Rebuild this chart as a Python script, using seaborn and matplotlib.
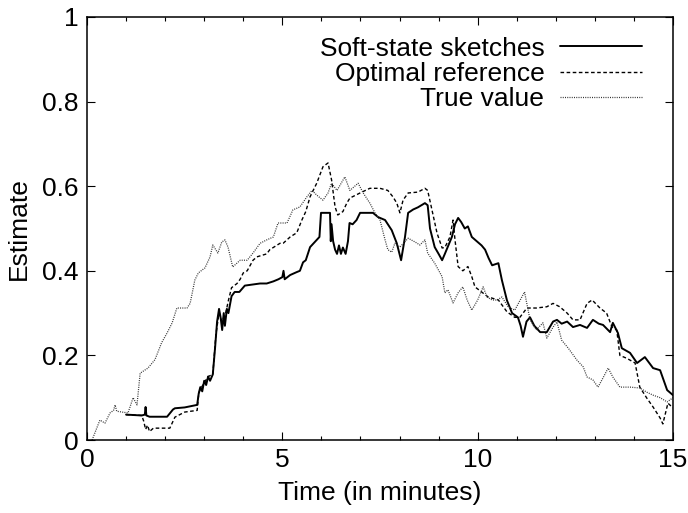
import numpy as np
import pandas as pd
import matplotlib
matplotlib.use("Agg")
import matplotlib.pyplot as plt
import seaborn as sns
from matplotlib.ticker import MultipleLocator

# ---------------- data ----------------
soft_t = [1.0, 1.4, 1.48, 1.50, 1.52, 1.6, 2.05, 2.2, 2.25, 2.5, 2.82, 2.86, 2.9, 2.95, 3.0, 3.05,
          3.1, 3.15, 3.22, 3.28, 3.33, 3.38, 3.42, 3.46, 3.5, 3.53, 3.58, 3.62, 3.7, 3.78, 3.9,
          4.04, 4.2, 4.43, 4.6, 4.77, 4.9, 5.0, 5.03, 5.06, 5.2, 5.37, 5.45, 5.53, 5.6, 5.71,
          5.8, 5.88, 5.95, 5.99, 6.22, 6.24, 6.26, 6.3, 6.35, 6.4, 6.45, 6.5, 6.55, 6.62, 6.68,
          6.72, 6.8, 6.9, 6.99, 7.32, 7.45, 7.63, 7.8, 7.93, 8.04, 8.14, 8.22, 8.35, 8.47, 8.65,
          8.72, 8.78, 8.9, 9.0, 9.09, 9.16, 9.25, 9.34, 9.42, 9.5, 9.58, 9.67, 9.75, 9.85, 10.0,
          10.1, 10.19, 10.28, 10.37, 10.53, 10.62, 10.75, 10.88, 11.03, 11.1, 11.16, 11.25,
          11.34, 11.45, 11.6, 11.77, 11.93, 12.03, 12.15, 12.29, 12.44, 12.62, 12.8, 12.95,
          13.1, 13.21, 13.39, 13.46, 13.59, 13.69, 13.9, 14.08, 14.28, 14.49, 14.67, 14.85, 15.0]
soft_v = [0.060, 0.058, 0.060, 0.078, 0.058, 0.055, 0.055, 0.072, 0.075, 0.077, 0.083, 0.11,
          0.125, 0.115, 0.14, 0.13, 0.15, 0.14, 0.155, 0.22, 0.28, 0.31, 0.29, 0.26, 0.30, 0.27,
          0.31, 0.30, 0.34, 0.35, 0.35, 0.365, 0.367, 0.37, 0.37, 0.375, 0.38, 0.385, 0.40, 0.38,
          0.39, 0.397, 0.40, 0.42, 0.425, 0.456, 0.465, 0.473, 0.48, 0.537, 0.537, 0.47, 0.51,
          0.47, 0.45, 0.44, 0.46, 0.44, 0.455, 0.44, 0.47, 0.513, 0.51, 0.52, 0.537, 0.537,
          0.527, 0.52, 0.496, 0.465, 0.425, 0.48, 0.537, 0.545, 0.55, 0.56, 0.555, 0.50, 0.456,
          0.44, 0.425, 0.44, 0.46, 0.48, 0.51, 0.525, 0.515, 0.50, 0.505, 0.48, 0.468, 0.46,
          0.45, 0.43, 0.413, 0.418, 0.378, 0.33, 0.30, 0.29, 0.27, 0.244, 0.28, 0.29, 0.27,
          0.255, 0.255, 0.28, 0.284, 0.275, 0.28, 0.267, 0.272, 0.265, 0.284, 0.275, 0.272,
          0.255, 0.277, 0.253, 0.217, 0.206, 0.182, 0.196, 0.17, 0.165, 0.118, 0.106]

opt_t = [1.0, 1.4, 1.45, 1.5, 1.55, 1.6, 1.7, 1.82, 2.12, 2.25, 2.5, 2.82, 2.86, 2.9, 3.0, 3.1,
         3.22, 3.3, 3.38, 3.45, 3.55, 3.62, 3.7, 3.84, 3.92, 4.0, 4.1, 4.25, 4.35, 4.6, 4.68,
         4.94, 5.02, 5.2, 5.37, 5.5, 5.6, 5.71, 5.88, 6.04, 6.17, 6.26, 6.35, 6.42, 6.55, 6.65,
         6.73, 6.99, 7.24, 7.5, 7.7, 7.83, 7.93, 8.01, 8.09, 8.22, 8.47, 8.65, 8.72, 8.83, 8.96,
         9.09, 9.16, 9.29, 9.37, 9.42, 9.5, 9.62, 9.75, 9.85, 9.93, 10.1, 10.27, 10.53, 10.75,
         10.95, 11.08, 11.26, 11.5, 11.77, 11.93, 12.1, 12.29, 12.44, 12.62, 12.8, 12.93,
         13.13, 13.3, 13.44, 13.56, 13.64, 13.82, 14.03, 14.15, 14.33, 14.49, 14.67, 14.74,
         14.87, 15.0]
opt_v = [0.060, 0.058, 0.045, 0.025, 0.035, 0.02, 0.028, 0.028, 0.028, 0.054, 0.066, 0.07,
         0.11, 0.12, 0.135, 0.15, 0.155, 0.25, 0.30, 0.28, 0.30, 0.33, 0.36, 0.37, 0.38, 0.395,
         0.40, 0.425, 0.433, 0.44, 0.45, 0.465, 0.465, 0.48, 0.49, 0.52, 0.54, 0.575, 0.607,
         0.646, 0.655, 0.615, 0.551, 0.532, 0.54, 0.56, 0.572, 0.584, 0.595, 0.595, 0.59, 0.575,
         0.56, 0.537, 0.567, 0.584, 0.586, 0.595, 0.59, 0.544, 0.489, 0.454, 0.455, 0.48, 0.52,
         0.473, 0.41, 0.40, 0.41, 0.386, 0.362, 0.35, 0.338, 0.331, 0.303, 0.29, 0.29, 0.312,
         0.312, 0.315, 0.323, 0.315, 0.30, 0.284, 0.284, 0.323, 0.331, 0.312, 0.30, 0.267,
         0.26, 0.20, 0.193, 0.182, 0.125, 0.099, 0.078, 0.052, 0.038, 0.087, 0.076]

true_t = [0.13, 0.33, 0.46, 0.59, 0.68, 0.72, 0.76, 0.9, 1.05, 1.18, 1.28, 1.36, 1.56, 1.74,
          1.91, 2.05, 2.18, 2.3, 2.56, 2.64, 2.76, 2.85, 3.02, 3.15, 3.22, 3.35, 3.45, 3.53,
          3.61, 3.73, 3.92, 4.1, 4.25, 4.43, 4.6, 4.77, 4.89, 5.12, 5.27, 5.45, 5.63, 5.76,
          5.88, 6.04, 6.17, 6.26, 6.4, 6.6, 6.73, 6.94, 7.07, 7.24, 7.37, 7.5, 7.63, 7.7, 7.8,
          7.88, 8.01, 8.22, 8.4, 8.52, 8.65, 8.72, 8.9, 9.09, 9.16, 9.24, 9.37, 9.5, 9.62, 9.73,
          9.85, 10.0, 10.14, 10.24, 10.37, 10.5, 10.62, 10.78, 10.95, 11.13, 11.2, 11.34, 11.5,
          11.67, 11.77, 11.93, 12.03, 12.15, 12.32, 12.54, 12.7, 12.8, 12.95, 13.08, 13.21,
          13.34, 13.46, 13.64, 13.9, 14.15, 14.33, 14.49, 14.67, 14.85, 15.0]
true_v = [0.0, 0.047, 0.04, 0.064, 0.07, 0.083, 0.068, 0.066, 0.064, 0.10, 0.083, 0.158, 0.17,
          0.19, 0.23, 0.253, 0.277, 0.312, 0.312, 0.323, 0.378, 0.395, 0.407, 0.433, 0.461,
          0.442, 0.468, 0.473, 0.456, 0.409, 0.425, 0.425, 0.442, 0.465, 0.473, 0.48, 0.513,
          0.513, 0.544, 0.551, 0.575, 0.59, 0.579, 0.567, 0.584, 0.607, 0.59, 0.622, 0.59,
          0.607, 0.584, 0.56, 0.537, 0.52, 0.473, 0.45, 0.444, 0.465, 0.456, 0.477, 0.468,
          0.461, 0.473, 0.442, 0.418, 0.386, 0.348, 0.355, 0.324, 0.348, 0.362, 0.331, 0.307,
          0.331, 0.362, 0.338, 0.331, 0.331, 0.338, 0.315, 0.307, 0.338, 0.35, 0.284, 0.26,
          0.277, 0.241, 0.267, 0.279, 0.236, 0.217, 0.189, 0.173, 0.149, 0.142, 0.125, 0.147,
          0.17, 0.149, 0.125, 0.125, 0.123, 0.113, 0.106, 0.10, 0.09, 0.10]

series_names = ["Soft-state sketches", "Optimal reference", "True value"]
x_ticks = [0, 5, 10, 15]
y_ticks = [0, 0.2, 0.4, 0.6, 0.8, 1]
y_tick_labels = ["0", "0.2", "0.4", "0.6", "0.8", "1"]

# ---------------- style ----------------
sns.set_theme(style="ticks")
plt.rcParams["font.family"] = ["Liberation Sans", "DejaVu Sans"]
plt.rcParams["text.color"] = "black"
plt.rcParams["axes.labelcolor"] = "black"
FS = 19

fig = plt.figure(figsize=(6.88, 5.13), dpi=100)
ax = fig.add_axes([87 / 688, 1 - 440 / 513, (673 - 87) / 688, (440 - 17) / 513])

sns.lineplot(x=soft_t, y=soft_v, ax=ax, color="black", lw=1.4, sort=False,
             estimator=None, label=series_names[0])
sns.lineplot(x=opt_t, y=opt_v, ax=ax, color="black", lw=1.0, sort=False,
             estimator=None, label=series_names[1])
sns.lineplot(x=true_t, y=true_v, ax=ax, color="black", lw=0.9, sort=False,
             estimator=None, label=series_names[2])

lines = ax.get_lines()
lines[0].set_linestyle("-")
lines[1].set_dashes([2.6, 1.8])
lines[2].set_dashes([0.8, 1.0])
lines[2].set_color("#333333")

ax.set_xlim(0, 15)
ax.set_ylim(0, 1)
ax.set_xticks(x_ticks)
ax.set_yticks(y_ticks)
ax.set_yticklabels(y_tick_labels)
ax.xaxis.set_minor_locator(MultipleLocator(1))

for s in ax.spines.values():
    s.set_visible(True)
    s.set_linewidth(1.1)
    s.set_color("black")

ax.tick_params(which="both", direction="in", top=True, right=True, color="black",
               labelsize=FS, labelcolor="black")
ax.tick_params(which="major", length=6, width=0.8, pad=6)
ax.tick_params(which="minor", length=3, width=0.8)

ax.set_xlabel("Time (in minutes)", fontsize=FS, color="black", labelpad=6)
ax.set_ylabel("Estimate", fontsize=FS, color="black", labelpad=8)

leg = ax.legend(loc="upper right", frameon=False, markerfirst=False, fontsize=FS,
                handlelength=3.1, handletextpad=0.6, labelspacing=0.05,
                borderaxespad=0.6, bbox_to_anchor=(0.992, 1.016))
for t in leg.get_texts():
    t.set_color("black")

fig.savefig("out.png", dpi=100)
